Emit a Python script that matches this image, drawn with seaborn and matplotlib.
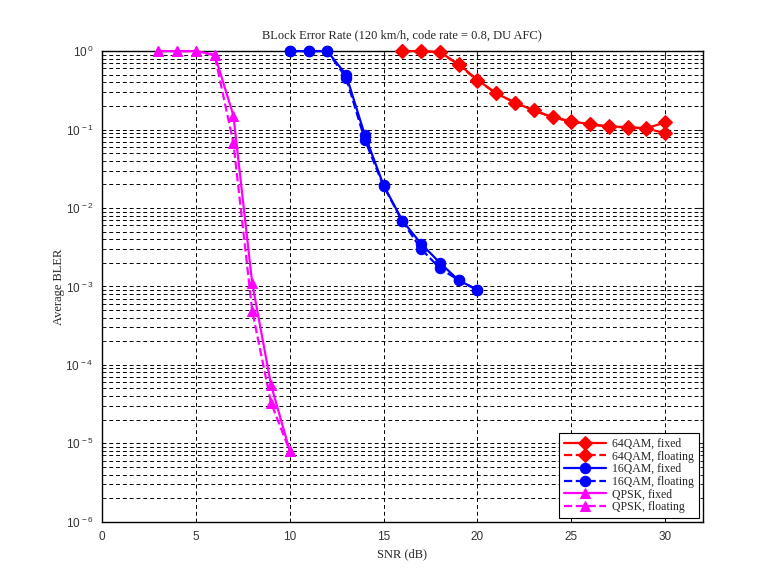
import numpy as np
import pandas as pd
import matplotlib
matplotlib.use("Agg")
import matplotlib.pyplot as plt
import seaborn as sns
from matplotlib.ticker import LogLocator, NullFormatter, FixedLocator

# --- data ---
snr_64 = [16, 17, 18, 19, 20, 21, 22, 23, 24, 25, 26, 27, 28, 29, 30]
bler_64_fixed = [1.0, 1.0, 0.97, 0.68, 0.43, 0.29, 0.22, 0.176, 0.144, 0.127, 0.117, 0.11, 0.107, 0.104, 0.123]
bler_64_float = [1.0, 1.0, 0.96, 0.67, 0.42, 0.29, 0.22, 0.175, 0.143, 0.126, 0.116, 0.109, 0.106, 0.103, 0.09]

snr_16 = [10, 11, 12, 13, 14, 15, 16, 17, 18, 19, 20]
bler_16_fixed = [1.0, 1.0, 1.0, 0.50, 0.085, 0.0195, 0.0069, 0.0035, 0.0020, 0.0012, 0.0009]
bler_16_float = [1.0, 1.0, 1.0, 0.46, 0.074, 0.019, 0.0068, 0.0030, 0.0017, 0.0012, 0.0009]

snr_qpsk = [3, 4, 5, 6, 7, 8, 9, 10]
bler_qpsk_fixed = [1.0, 1.0, 1.0, 0.9, 0.15, 1.1e-3, 5.6e-5, 8e-6]
bler_qpsk_float = [1.0, 1.0, 1.0, 0.88, 0.067, 4.9e-4, 3.3e-5, 8e-6]

labels = ["64QAM, fixed", "64QAM, floating", "16QAM, fixed", "16QAM, floating",
          "QPSK, fixed", "QPSK, floating"]

series = [
    (snr_64, bler_64_fixed, "red", "D", "-"),
    (snr_64, bler_64_float, "red", "D", "--"),
    (snr_16, bler_16_fixed, "blue", "o", "-"),
    (snr_16, bler_16_float, "blue", "o", "--"),
    (snr_qpsk, bler_qpsk_fixed, "magenta", "^", "-"),
    (snr_qpsk, bler_qpsk_float, "magenta", "^", "--"),
]

sns.set_style("white")
plt.rcParams["font.family"] = ["Liberation Serif", "DejaVu Serif"]
plt.rcParams["mathtext.fontset"] = "custom"
plt.rcParams["mathtext.rm"] = "Liberation Sans"
plt.rcParams["mathtext.it"] = "Liberation Sans"

fig = plt.figure(figsize=(7.79, 5.74), dpi=100)
ax = fig.add_axes([0.131, 0.091, 0.771, 0.820])

for (x, y, c, m, ls), lab in zip(series, labels):
    df = pd.DataFrame({"SNR": x, "BLER": y})
    sns.lineplot(data=df, x="SNR", y="BLER", ax=ax, color=c, marker=m, linestyle=ls,
                 linewidth=1.6, markersize=7.5 if m != "D" else 7,
                 markeredgecolor=c, markerfacecolor=c, label=lab, clip_on=False,
                 zorder=3)

ax.set_yscale("log")
ax.set_xlim(0, 32)
ax.set_ylim(1e-6, 1)
ax.xaxis.set_major_locator(FixedLocator([0, 5, 10, 15, 20, 25, 30]))
ax.yaxis.set_major_locator(LogLocator(base=10, numticks=10))
ax.yaxis.set_minor_locator(LogLocator(base=10, subs=np.arange(2, 10), numticks=20))
ax.yaxis.set_minor_formatter(NullFormatter())
ax.yaxis.set_major_formatter(lambda v, pos: r"$\mathrm{10^{\,%d}}$" % round(np.log10(v)))

ax.grid(True, which="major", axis="both", color="black", linestyle=(0, (4, 3)), linewidth=0.7)
ax.grid(True, which="minor", axis="y", color="black", linestyle=(0, (4, 3)), linewidth=0.7)
ax.set_axisbelow(True)

for sp in ax.spines.values():
    sp.set_color("black")
    sp.set_linewidth(1.0)

ax.tick_params(axis="both", which="major", direction="in", length=4, labelsize=8.5,
               labelcolor="#333333", top=True, right=True)
ax.tick_params(axis="x", which="major", pad=6.5)
ax.tick_params(axis="y", which="major", pad=6)
ax.tick_params(axis="y", which="minor", direction="in", length=2, right=True, left=True)
for lbl in ax.get_xticklabels():
    lbl.set_fontfamily("Liberation Sans")

ax.set_xlabel("SNR (dB)", fontsize=9, labelpad=4)
ax.set_ylabel("Average BLER", fontsize=9, labelpad=0)
ax.set_title("BLock Error Rate (120 km/h, code rate = 0.8, DU AFC)", fontsize=9, pad=9)

leg = ax.legend(loc="lower right", fontsize=8.5, handlelength=3.6, frameon=True,
                fancybox=False, edgecolor="black", framealpha=1, borderaxespad=0.35,
                labelspacing=0.05, borderpad=0.4, handletextpad=0.5)
leg.get_frame().set_linewidth(0.8)

fig.savefig("out.png", dpi=100)
